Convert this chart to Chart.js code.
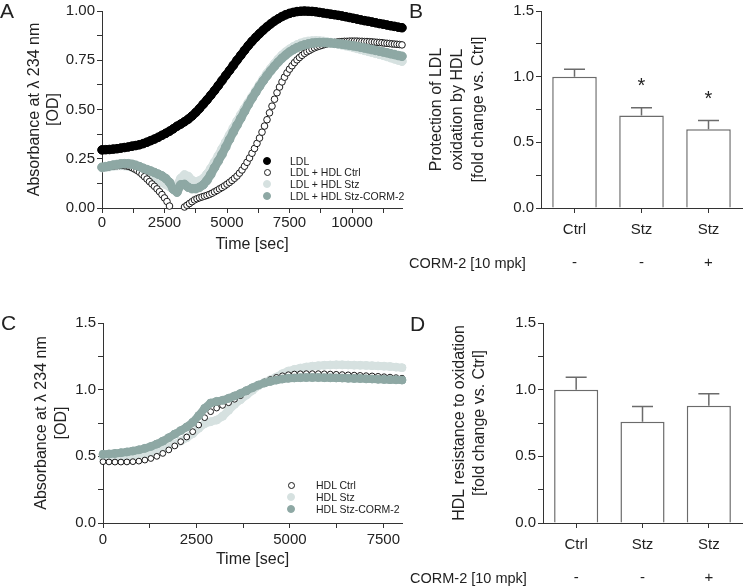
<!DOCTYPE html>
<html>
<head>
<meta charset="utf-8">
<script src="https://cdn.jsdelivr.net/npm/chart.js@4.4.0/dist/chart.umd.min.js"></script>
<style>
  body { margin: 0; background: #fff; width: 743px; height: 586px; position: relative; overflow: hidden;
         font-family: 'Liberation Sans', Arial, sans-serif; color: #222; }
  .box { position: absolute; }
  .letter { position: absolute; font-size: 21px; line-height: 21px; }
  .corm { position: absolute; font-size: 14.5px; line-height: 16px; white-space: nowrap; }
  .leg { position: absolute; font-size: 10.5px; line-height: 12px; white-space: nowrap; }
  .leg span.dot { position: absolute; border-radius: 50%; box-sizing: border-box; }
</style>
</head>
<body>
<div class="box" style="left:0;top:0;width:415px;height:290px"><canvas id="chartA"></canvas></div>
<div class="box" style="left:400px;top:0;width:343px;height:290px"><canvas id="chartB"></canvas></div>
<div class="box" style="left:0;top:290px;width:415px;height:296px"><canvas id="chartC"></canvas></div>
<div class="box" style="left:400px;top:290px;width:343px;height:296px"><canvas id="chartD"></canvas></div>

<div class="letter" style="left:0;top:0">A</div>
<div class="letter" style="left:409px;top:0">B</div>
<div class="letter" style="left:1px;top:312px">C</div>
<div class="letter" style="left:410px;top:313px">D</div>
<div class="corm" style="left:409px;top:255px">CORM-2 [10 mpk]</div>
<div class="corm" style="left:410px;top:570px">CORM-2 [10 mpk]</div>
<div id="legA"></div>
<div id="legC"></div>

<script>
// ---- panel A: LDL oxidation time course (sec vs OD) ----
var timesA = [0,150,300,450,600,750,900,1050,1200,1350,
  1500,1650,1800,1950,2100,2250,2400,2550,2700,2850,
  3000,3150,3300,3450,3600,3750,3900,4050,4200,4350,
  4500,4650,4800,4950,5100,5250,5400,5550,5700,5850,
  6000,6150,6300,6450,6600,6750,6900,7050,7200,7350,
  7500,7650,7800,7950,8100,8250,8400,8550,8700,8850,
  9000,9150,9300,9450,9600,9750,9900,10050,10200,10350,
  10500,10650,10800,10950,11100,11250,11400,11550,11700,11850,
  12000];
var ldl = [0.295,0.296,0.297,0.299,0.301,0.304,0.307,0.310,0.314,0.317,
  0.321,0.327,0.334,0.342,0.350,0.359,0.369,0.379,0.390,0.402,
  0.415,0.426,0.438,0.451,0.467,0.485,0.505,0.527,0.549,0.572,
  0.596,0.621,0.647,0.673,0.698,0.724,0.750,0.775,0.800,0.824,
  0.846,0.866,0.885,0.903,0.920,0.935,0.949,0.961,0.972,0.981,
  0.988,0.993,0.997,0.999,1.000,0.999,0.998,0.996,0.993,0.990,
  0.987,0.984,0.981,0.978,0.975,0.971,0.967,0.963,0.959,0.955,
  0.951,0.948,0.944,0.940,0.936,0.933,0.929,0.925,0.922,0.918,
  0.915];
var ldlHdlStz = [0.205,0.207,0.210,0.213,0.215,0.216,0.215,0.213,0.207,0.200,
  0.190,0.180,0.170,0.160,0.150,0.140,0.130,0.120,0.108,0.098,
  0.115,0.150,0.168,0.160,0.140,0.132,0.138,0.150,0.172,0.200,
  0.232,0.265,0.300,0.335,0.370,0.405,0.440,0.473,0.505,0.535,
  0.565,0.595,0.625,0.655,0.683,0.708,0.732,0.755,0.775,0.792,
  0.806,0.818,0.828,0.836,0.842,0.846,0.848,0.849,0.848,0.846,
  0.843,0.840,0.836,0.832,0.828,0.824,0.820,0.815,0.810,0.805,
  0.800,0.795,0.790,0.785,0.780,0.775,0.769,0.763,0.757,0.751,
  0.745];
var ldlHdlCorm = [0.207,0.210,0.214,0.218,0.221,0.224,0.225,0.225,0.222,0.217,
  0.210,0.202,0.195,0.188,0.180,0.172,0.163,0.150,0.130,0.095,
  0.080,0.118,0.120,0.105,0.098,0.098,0.105,0.118,0.140,0.170,
  0.205,0.238,0.272,0.310,0.348,0.385,0.420,0.455,0.490,0.525,
  0.557,0.588,0.618,0.646,0.672,0.697,0.720,0.741,0.760,0.777,
  0.792,0.804,0.814,0.822,0.828,0.833,0.837,0.839,0.840,0.840,
  0.839,0.838,0.836,0.834,0.832,0.829,0.826,0.823,0.820,0.816,
  0.812,0.808,0.804,0.800,0.796,0.792,0.788,0.783,0.779,0.774,
  0.770];
// open-circle series is read at a finer step (its single circles show)
var timesCtrlA = [0,100,200,300,400,500,600,700,800,900,
  1000,1100,1200,1300,1400,1500,1600,1700,1800,1900,
  2000,2100,2200,2300,2400,2500,2600,2700,2800,2900,
  3000,3100,3200,3300,3400,3500,3600,3700,3800,3900,
  4000,4100,4200,4300,4400,4500,4600,4700,4800,4900,
  5000,5100,5200,5300,5400,5500,5600,5700,5800,5900,
  6000,6100,6200,6300,6400,6500,6600,6700,6800,6900,
  7000,7100,7200,7300,7400,7500,7600,7700,7800,7900,
  8000,8100,8200,8300,8400,8500,8600,8700,8800,8900,
  9000,9100,9200,9300,9400,9500,9600,9700,9800,9900,
  10000,10100,10200,10300,10400,10500,10600,10700,10800,10900,
  11000,11100,11200,11300,11400,11500,11600,11700,11800,11900,
  12000];
// below zero (off the axis) -> null
var ldlHdlCtrl = [0.205,0.206,0.208,0.210,0.212,0.214,0.215,0.216,0.216,0.215,
  0.213,0.210,0.205,0.198,0.191,0.182,0.171,0.159,0.147,0.134,
  0.122,0.110,0.097,0.083,0.068,0.051,0.033,0.010,null,null,
  null,null,null,0.005,0.014,0.023,0.032,0.041,0.047,0.052,
  0.056,0.060,0.064,0.069,0.075,0.082,0.089,0.097,0.104,0.112,
  0.121,0.130,0.140,0.151,0.162,0.177,0.193,0.212,0.232,0.254,
  0.278,0.302,0.328,0.355,0.385,0.416,0.448,0.483,0.517,0.552,
  0.585,0.614,0.640,0.664,0.686,0.705,0.722,0.738,0.752,0.764,
  0.775,0.785,0.793,0.800,0.807,0.813,0.818,0.822,0.826,0.830,
  0.833,0.836,0.838,0.840,0.842,0.844,0.845,0.846,0.846,0.847,
  0.847,0.847,0.847,0.846,0.846,0.845,0.845,0.844,0.843,0.842,
  0.841,0.840,0.839,0.837,0.836,0.835,0.833,0.832,0.831,0.830,
  0.828];
var namesA = ['LDL', 'LDL + HDL Ctrl', 'LDL + HDL Stz', 'LDL + HDL Stz-CORM-2'];
var xTicksA = [0,1250,2500,3750,5000,6250,7500,8750,10000,11250];
var xLabelsA = [0,2500,5000,7500,10000];
var yTicksA = [0,0.125,0.25,0.375,0.5,0.625,0.75,0.875,1];
var yLabelsA = [0,0.25,0.5,0.75,1];

// ---- panel C: HDL oxidation time course ----
var timesC = [0,160,320,480,640,800,960,1120,1280,1440,
  1600,1760,1920,2080,2240,2400,2560,2720,2880,3040,
  3200,3360,3520,3680,3840,4000,4160,4320,4480,4640,
  4800,4960,5120,5280,5440,5600,5760,5920,6080,6240,
  6400,6560,6720,6880,7040,7200,7360,7520,7680,7840,
  8000];
var hdlCtrl = [0.460,0.458,0.457,0.457,0.458,0.460,0.464,0.472,0.484,0.500,
  0.522,0.548,0.578,0.610,0.645,0.685,0.735,0.790,0.835,0.862,
  0.882,0.902,0.928,0.955,0.985,1.012,1.036,1.058,1.076,1.092,
  1.104,1.112,1.117,1.119,1.120,1.120,1.120,1.119,1.117,1.115,
  1.113,1.111,1.109,1.107,1.105,1.103,1.100,1.097,1.094,1.090,
  1.086];
var hdlStz = [0.490,0.492,0.495,0.499,0.503,0.508,0.514,0.521,0.530,0.541,
  0.555,0.570,0.590,0.615,0.640,0.670,0.710,0.745,0.760,0.772,
  0.800,0.845,0.890,0.925,0.960,0.995,1.030,1.055,1.075,1.095,
  1.120,1.140,1.152,1.162,1.170,1.176,1.180,1.183,1.185,1.186,
  1.186,1.185,1.184,1.183,1.182,1.180,1.178,1.176,1.173,1.169,
  1.165];
var hdlCorm = [0.515,0.518,0.522,0.527,0.533,0.540,0.549,0.560,0.574,0.592,
  0.614,0.640,0.667,0.693,0.720,0.755,0.805,0.860,0.900,0.912,
  0.920,0.935,0.953,0.972,0.993,1.015,1.035,1.050,1.062,1.072,
  1.080,1.085,1.088,1.090,1.091,1.091,1.091,1.090,1.089,1.088,
  1.087,1.085,1.084,1.083,1.081,1.080,1.078,1.077,1.075,1.074,
  1.072];
var namesC = ['HDL Ctrl', 'HDL Stz', 'HDL Stz-CORM-2'];
var xTicksC = [0,1250,2500,3750,5000,6250,7500];
var xLabelsC = [0,2500,5000,7500];
var yTicks15 = [0,0.25,0.5,0.75,1,1.25,1.5];
var yLabels15 = [0,0.5,1,1.5];

// ---- bar panels B and D ----
var groups = ['Ctrl', 'Stz', 'Stz'];
var corm2 = ['-', '-', '+'];
var protB = [1.0, 0.705, 0.60];
var protBErr = [0.057, 0.058, 0.066];
var sigB = ['', '*', '*'];
var resD = [1.0, 0.76, 0.88];
var resDErr = [0.093, 0.113, 0.09];
var sigD = ['', '', ''];

var BLACK = '#000', TEAL = 'rgb(142,168,164)', LIGHT = 'rgb(214,225,224)';

Chart.defaults.font.family = "'Liberation Sans', Arial, sans-serif";
Chart.defaults.color = '#222';
Chart.defaults.animation = false;
Chart.defaults.plugins.legend.display = false;
Chart.defaults.plugins.tooltip.enabled = false;

function numAxis(o) {
  return {
    type: 'linear', min: o.min, max: o.max,
    afterBuildTicks: function(s) { s.ticks = o.ticks.map(function(v) { return {value: v}; }); },
    ticks: { autoSkip: false, maxRotation: 0, minRotation: 0, padding: o.pad, font: {size: 15}, color: '#222',
      callback: function(v) { return o.labels.indexOf(v) >= 0 ? v.toFixed(o.dec) : ''; } },
    grid: { drawOnChartArea: false, tickLength: 5, tickColor: '#333' },
    border: { color: '#333', width: 1 },
    title: { display: true, text: o.title, color: '#222', font: {size: 16, lineHeight: o.lh || 1.2}, padding: o.tpad },
    afterFit: function(s) { if (s.isHorizontal()) s.height = o.size; else s.width = o.size; }
  };
}

function pts(times, vals) {
  return times.map(function(t, i) { return {x: t, y: vals[i]}; });
}

// filled markers are so dense they read as a band: a line of the same width runs under them
function series(label, times, vals, fill, stroke, r, order, band) {
  return { label: label, data: pts(times, vals), showLine: band, clip: false, order: order,
    borderColor: fill, borderWidth: band ? 2 * r : 0, borderCapStyle: 'round', borderJoinStyle: 'round',
    pointRadius: r, pointBackgroundColor: fill, pointBorderColor: stroke, pointBorderWidth: 1 };
}

new Chart(document.getElementById('chartA'), {
  type: 'scatter',
  data: { datasets: [
    series(namesA[0], timesA, ldl, BLACK, BLACK, 4.3, 0, true),
    series(namesA[1], timesCtrlA, ldlHdlCtrl, '#fff', '#1a1a1a', 3.3, 2, false),
    series(namesA[2], timesA, ldlHdlStz, LIGHT, LIGHT, 4.3, 3, true),
    series(namesA[3], timesA, ldlHdlCorm, TEAL, TEAL, 4.3, 1, true)
  ]},
  options: {
    responsive: true, maintainAspectRatio: false, events: [],
    layout: { padding: {left: 0, top: 9, right: 13, bottom: 0} },
    scales: {
      x: numAxis({min: 0, max: 12000, ticks: xTicksA, labels: xLabelsA, dec: 0, pad: 1, size: 82,
        title: 'Time [sec]', tpad: {top: 0, bottom: 35.4}}),
      y: numAxis({min: 0, max: 1, ticks: yTicksA, labels: yLabelsA, dec: 2, pad: 2, size: 102, lh: 1.15,
        title: ['Absorbance at \u03bb 234 nm', '[OD]'], tpad: {top: 25.8, bottom: 0}})
    }
  }
});

new Chart(document.getElementById('chartC'), {
  type: 'scatter',
  data: { datasets: [
    series(namesC[0], timesC, hdlCtrl, '#fff', '#1a1a1a', 2.9, 1, false),
    series(namesC[1], timesC, hdlStz, LIGHT, LIGHT, 4, 2, true),
    series(namesC[2], timesC, hdlCorm, TEAL, TEAL, 4, 0, true)
  ]},
  options: {
    responsive: true, maintainAspectRatio: false, events: [],
    layout: { padding: {left: 0, top: 33, right: 13, bottom: 0} },
    scales: {
      x: numAxis({min: 0, max: 8000, ticks: xTicksC, labels: xLabelsC, dec: 0, pad: 3, size: 63,
        title: 'Time [sec]', tpad: {top: 0, bottom: 16.4}}),
      y: numAxis({min: 0, max: 1.5, ticks: yTicks15, labels: yLabels15, dec: 1, pad: 2, size: 103, lh: 1.25,
        title: ['Absorbance at \u03bb 234 nm', '[OD]'], tpad: {top: 31.7, bottom: 0}})
    }
  }
});

// error bars (upper only) + significance marks, from the bar values
var errorBars = {
  id: 'errorBars',
  afterDatasetsDraw: function(chart, args, opts) {
    var ctx = chart.ctx, y = chart.scales.y;
    var vals = chart.data.datasets[0].data;
    var meta = chart.getDatasetMeta(0);
    ctx.save();
    ctx.strokeStyle = '#6b6b6b';
    ctx.lineWidth = 1.5;
    ctx.fillStyle = '#222';
    ctx.font = "20px 'Liberation Sans', Arial, sans-serif";
    ctx.textAlign = 'center';
    ctx.textBaseline = 'middle';
    meta.data.forEach(function(bar, i) {
      var top = y.getPixelForValue(vals[i] + opts.errors[i]);
      ctx.beginPath();
      ctx.moveTo(bar.x, bar.y);
      ctx.lineTo(bar.x, top);
      ctx.moveTo(bar.x - 10.5, top);
      ctx.lineTo(bar.x + 10.5, top);
      ctx.stroke();
      if (opts.marks[i]) ctx.fillText(opts.marks[i], bar.x, top - 21);
    });
    ctx.restore();
  }
};

function barChart(id, vals, errs, marks, title, top, xh, ysize, lh, tpadTop) {
  new Chart(document.getElementById(id), {
    type: 'bar',
    data: { labels: groups, datasets: [{ data: vals, backgroundColor: '#fff', borderColor: '#6b6b6b',
      borderWidth: 1.5, barPercentage: 0.665, categoryPercentage: 1 }] },
    options: {
      responsive: true, maintainAspectRatio: false, events: [],
      layout: { padding: {left: 0, top: top, right: 1, bottom: 0} },
      scales: {
        x: {
          grid: { offset: false, drawOnChartArea: false, tickLength: 5, tickColor: '#333' },
          border: { color: '#333', width: 1 },
          ticks: { padding: 8.75, maxRotation: 0, color: '#222', font: {size: 15, lineHeight: 1.1},
            callback: function(v, i) { return [groups[i], '', corm2[i]]; } },
          afterFit: function(s) { s.height = xh; }
        },
        y: numAxis({min: 0, max: 1.5, ticks: yTicks15, labels: yLabels15, dec: 1, pad: 2, size: ysize, lh: lh,
          title: title, tpad: {top: tpadTop, bottom: 0}})
      },
      plugins: { errorBars: { errors: errs, marks: marks } }
    },
    plugins: [errorBars]
  });
}

barChart('chartB', protB, protBErr, sigB,
  ['Protection of LDL', 'oxidation by HDL', '[fold change vs. Ctrl]'], 9, 82, 141, 1.3, 26.3);
barChart('chartD', resD, resDErr, sigD,
  ['HDL resistance to oxidation', '[fold change vs. Ctrl]'], 33, 63, 143, 1.25, 50);

// legends inside the time-course panels
function legend(id, names, styles, dotX, textX, top0, rowH) {
  var host = document.getElementById(id);
  names.forEach(function(n, i) {
    var row = document.createElement('div');
    row.className = 'leg';
    var cy = top0 + i * rowH;
    row.style.left = textX + 'px';
    row.style.top = (cy - 6) + 'px';
    row.textContent = n;
    var s = styles[i];
    var d = document.createElement('span');
    d.className = 'dot';
    d.style.width = d.style.height = s.d + 'px';
    d.style.left = (dotX - textX - s.d / 2) + 'px';
    d.style.top = (6 - s.d / 2) + 'px';
    d.style.background = s.fill;
    d.style.border = '1px solid ' + s.stroke;
    row.appendChild(d);
    host.appendChild(row);
  });
}
legend('legA', namesA, [
  {fill: BLACK, stroke: BLACK, d: 8}, {fill: '#fff', stroke: '#1a1a1a', d: 7},
  {fill: LIGHT, stroke: LIGHT, d: 8}, {fill: TEAL, stroke: TEAL, d: 8}], 267, 290, 160.5, 11.9);
legend('legC', namesC, [
  {fill: '#fff', stroke: '#1a1a1a', d: 7}, {fill: LIGHT, stroke: LIGHT, d: 8},
  {fill: TEAL, stroke: TEAL, d: 8}], 291, 316, 485, 12.2);
</script>
</body>
</html>
